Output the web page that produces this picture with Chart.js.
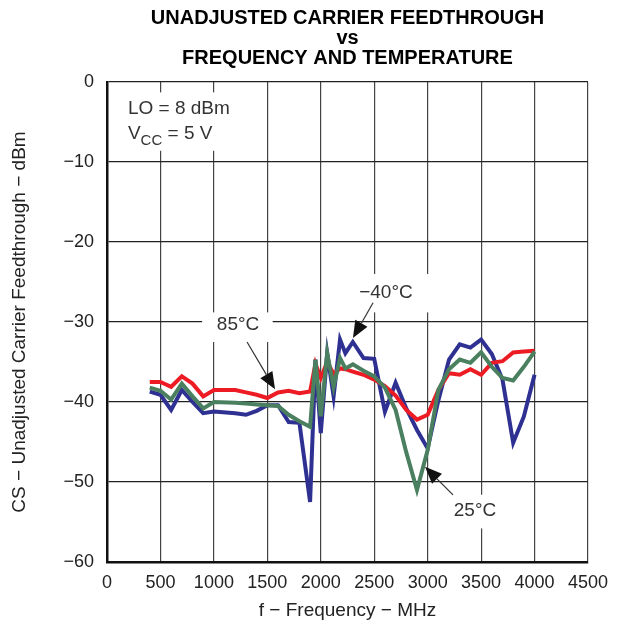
<!DOCTYPE html>
<html>
<head>
<meta charset="utf-8">
<script src="https://cdn.jsdelivr.net/npm/chart.js@4.4.0/dist/chart.umd.min.js"></script>
<style>
  html, body { margin: 0; padding: 0; background: #fff; }
</style>
</head>
<body>
<canvas id="chart" width="629" height="627"></canvas>
<script>
// frequency points (MHz)
const freqs = [400, 500, 600, 700, 800, 900, 1000, 1200, 1300, 1400, 1500, 1600, 1700, 1800, 1900,
  1950, 2000, 2060, 2120, 2180, 2230, 2300, 2400, 2500, 2600, 2700, 2800, 2900, 3000,
  3100, 3200, 3300, 3400, 3500, 3600, 3700, 3800, 3900, 4000];

// carrier feedthrough (dBm) per temperature
const feedMinus40 = [-38.7, -39.1, -41.0, -38.5, -40.0, -41.4, -41.2, -41.4, -41.6, -41.1, -40.4, -40.4, -42.5, -42.6, -52.5,
  -34.7, -43.9, -33.9, -39.3, -32.2, -33.9, -32.5, -34.5, -34.6, -41.2, -37.6, -40.8, -43.5, -45.8,
  -39.8, -34.7, -32.8, -33.2, -32.2, -34.0, -37.2, -45.1, -41.8, -36.6];
const feed25 = [-38.2, -38.6, -39.7, -37.7, -39.3, -40.8, -40.0, -40.1, -40.2, -40.3, -40.4, -40.5, -41.6, -42.4, -43.1,
  -34.7, -41.8, -33.9, -38.1, -34.5, -35.8, -35.3, -36.1, -36.8, -38.2, -41.0, -46.3, -51.0, -46.0,
  -38.5, -35.9, -34.7, -35.1, -33.8, -35.6, -37.0, -37.3, -35.6, -33.7];
const feed85 = [-37.5, -37.5, -38.1, -36.8, -37.7, -39.3, -38.5, -38.5, -38.8, -39.1, -39.5, -38.8, -38.6, -38.9, -38.7,
  -35.2, -37.0, -35.0, -36.5, -35.8, -35.9, -36.2, -36.6, -37.2, -38.0, -39.2, -41.0, -42.2, -41.6,
  -38.5, -36.4, -36.6, -35.9, -36.6, -35.1, -34.9, -33.8, -33.7, -33.6];

const titleLines = ["UNADJUSTED CARRIER FEEDTHROUGH", "vs", "FREQUENCY AND TEMPERATURE"];

// curve labels, placed in data units (MHz, dBm)
const notes = [
  { text: "85°C", at: [1226, -30.4], box: [890, -28.8, 1550, -32.5], from: [1310, -32.5], to: [1572, -38.4] },
  { text: "−40°C", at: [2610, -26.4], box: [2230, -24.0, 3020, -28.8], from: [2489, -27.6], to: [2301, -32.0] },
  { text: "25°C", at: [3443, -53.6], box: [3160, -51.6, 3720, -55.8], from: [3237, -51.6], to: [2975, -48.1] }
];

const toPoints = (arr) => freqs.map((f, i) => ({ x: f, y: arr[i] }));

function arrow(ctx, x1, y1, x2, y2) {
  const a = Math.atan2(y2 - y1, x2 - x1);
  const len = 17, half = 7;
  const bx = x2 - len * Math.cos(a), by = y2 - len * Math.sin(a);
  ctx.strokeStyle = "#333";
  ctx.lineWidth = 1.2;
  ctx.beginPath();
  ctx.moveTo(x1, y1);
  ctx.lineTo(bx, by);
  ctx.stroke();
  ctx.fillStyle = "#111";
  ctx.beginPath();
  ctx.moveTo(x2, y2);
  ctx.lineTo(bx + half * Math.sin(a), by - half * Math.cos(a));
  ctx.lineTo(bx - half * Math.sin(a), by + half * Math.cos(a));
  ctx.closePath();
  ctx.fill();
}

const labelsPlugin = {
  id: "labels",
  beforeDatasetsDraw(chart) {
    const { ctx, scales: { x, y } } = chart;
    ctx.save();
    ctx.fillStyle = "#fff";
    // white patches behind the texts
    ctx.fillRect(x.getPixelForValue(50), y.getPixelForValue(-1.3),
      x.getPixelForValue(1330) - x.getPixelForValue(50), y.getPixelForValue(-8.6) - y.getPixelForValue(-1.3));
    notes.forEach((n) => {
      const x1 = x.getPixelForValue(n.box[0]), y1 = y.getPixelForValue(n.box[1]);
      const x2 = x.getPixelForValue(n.box[2]), y2 = y.getPixelForValue(n.box[3]);
      ctx.fillRect(x1, y1, x2 - x1, y2 - y1);
    });
    ctx.restore();
  },
  afterDatasetsDraw(chart) {
    const { ctx, scales: { x, y } } = chart;
    ctx.save();
    ctx.fillStyle = "#333";
    ctx.font = "19px 'Liberation Sans', Arial, sans-serif";
    ctx.textBaseline = "alphabetic";
    ctx.textAlign = "left";
    const lx = x.getPixelForValue(196);
    ctx.fillText("LO = 8 dBm", lx, y.getPixelForValue(-4.0));
    const vy = y.getPixelForValue(-7.1);
    ctx.fillText("V", lx, vy);
    let w = ctx.measureText("V").width;
    ctx.font = "15px 'Liberation Sans', Arial, sans-serif";
    ctx.fillText("CC", lx + w, vy + 6);
    w += ctx.measureText("CC").width;
    ctx.font = "19px 'Liberation Sans', Arial, sans-serif";
    ctx.fillText(" = 5 V", lx + w, vy);

    ctx.textAlign = "center";
    ctx.textBaseline = "middle";
    notes.forEach((n) => {
      ctx.fillStyle = "#333";
      ctx.fillText(n.text, x.getPixelForValue(n.at[0]), y.getPixelForValue(n.at[1]));
      arrow(ctx, x.getPixelForValue(n.from[0]), y.getPixelForValue(n.from[1]),
        x.getPixelForValue(n.to[0]), y.getPixelForValue(n.to[1]));
    });
    ctx.restore();
  }
};

const tickFont = { family: "'Liberation Sans', Arial, sans-serif", size: 18 };
const axisTitleFont = { family: "'Liberation Sans', Arial, sans-serif", size: 19 };

new Chart(document.getElementById("chart"), {
  type: "line",
  data: {
    datasets: [
      { label: "−40°C", data: toPoints(feedMinus40), borderColor: "#2e3192", borderWidth: 4, pointRadius: 0, tension: 0, order: 3 },
      { label: "85°C", data: toPoints(feed85), borderColor: "#ed1c24", borderWidth: 4, pointRadius: 0, tension: 0, order: 2 },
      { label: "25°C", data: toPoints(feed25), borderColor: "#4a7f5f", borderWidth: 4, pointRadius: 0, tension: 0, order: 1 }
    ]
  },
  options: {
    responsive: false,
    animation: false,
    layout: { padding: { left: 0, right: 41, top: 0, bottom: 0 } },
    plugins: {
      legend: { display: false },
      tooltip: { enabled: false },
      title: {
        display: true,
        text: titleLines,
        fullSize: false,
        color: "#000",
        font: { family: "'Liberation Sans Narrow', 'Liberation Sans', Arial, sans-serif", size: 20, weight: "bold", lineHeight: 1.0 },
        padding: { top: 8, bottom: 14 }
      }
    },
    scales: {
      x: {
        type: "linear",
        min: 0,
        max: 4500,
        afterFit: (s) => { s.height = 65; },
        ticks: { stepSize: 500, autoSkip: false, maxRotation: 0, padding: 10, color: "#222", font: tickFont, callback: (v) => String(v) },
        grid: { color: "#444", lineWidth: 1.2, drawTicks: false },
        border: { color: "#111", width: 2.5 },
        title: { display: true, text: "f − Frequency − MHz", color: "#222", font: axisTitleFont, padding: { top: 0, bottom: 5 } }
      },
      y: {
        min: -60,
        max: 0,
        afterFit: (s) => { s.width = 107; },
        ticks: {
          stepSize: 10,
          padding: 13,
          color: "#222",
          font: tickFont,
          callback: (v) => String(v).replace("-", "−")
        },
        grid: { color: "#222", lineWidth: 1.2, drawTicks: false },
        border: { color: "#111", width: 2.5 },
        title: { display: true, text: "CS − Unadjusted Carrier Feedthrough − dBm", color: "#222", font: axisTitleFont, padding: { top: 8, bottom: 8 } }
      }
    }
  },
  plugins: [labelsPlugin]
});
</script>
</body>
</html>
